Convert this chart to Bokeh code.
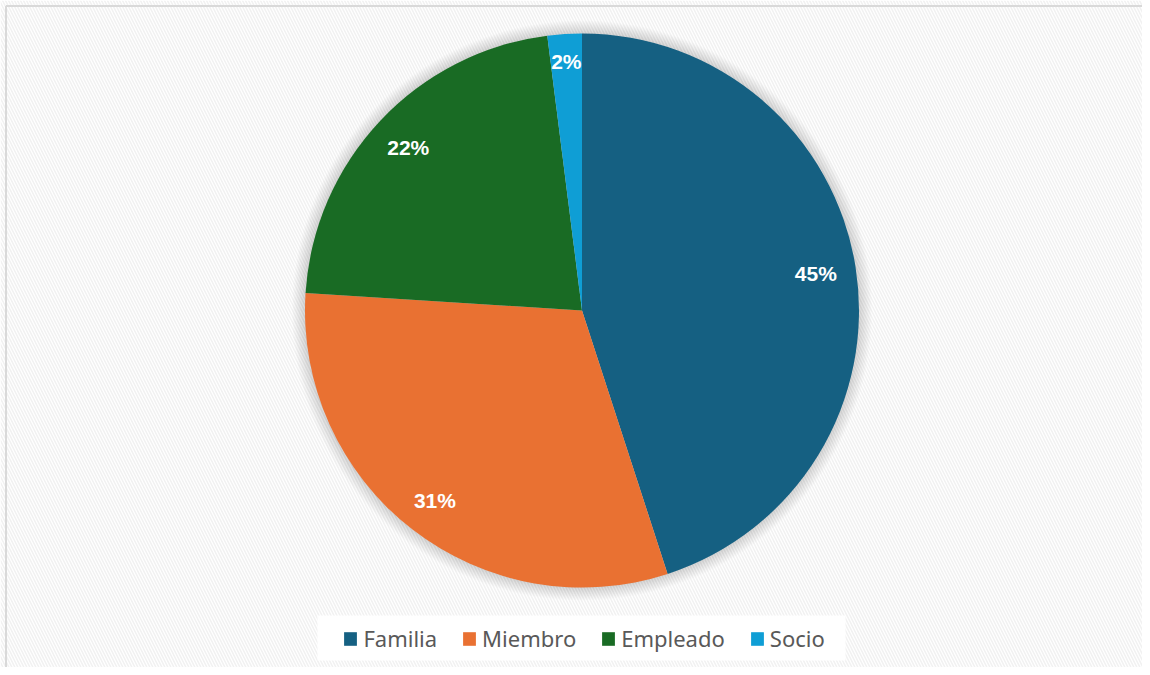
import numpy as np
from bokeh.plotting import figure
from bokeh.models import Range1d, ColumnDataSource, Legend, LegendItem
from bokeh.core.properties import value
from bokeh.embed import file_html
from bokeh.resources import INLINE

# ---- data ----
categories = ["Familia", "Miembro", "Empleado", "Socio"]
values = [45, 31, 22, 2]
colors = ["#156082", "#E97132", "#196B24", "#0F9ED5"]

# ---- geometry (picture pixels) ----
W, H = 1142, 667
OX, OY = 0, 0

def dx(X):
    return X - OX

def dy(Y):
    return (OY + H) - Y

cx, cy, R = dx(581.5), dy(310), 277

p = figure(width=W, height=H, output_backend="svg", toolbar_location=None,
           x_range=Range1d(0, W), y_range=Range1d(0, H), min_border=0,
           outline_line_color=None)
p.xaxis.visible = False
p.yaxis.visible = False
p.grid.visible = False
p.background_fill_color = "white"
p.border_fill_color = "white"

# hatched background
p.quad(left=[0], right=[W], bottom=[0], top=[H], fill_color="white", line_color=None,
       hatch_pattern="left_diagonal_line", hatch_color="#f1f1f1", hatch_scale=6, hatch_weight=1.5)

# chart border (left/top visible)
p.segment(x0=[dx(5.5), dx(5.5)], y0=[0, dy(5.5)], x1=[dx(5.5), W], y1=[dy(5.5), dy(5.5)],
          line_color="#d9d9d9", line_width=2)

# soft shadow
for k in range(1, 14):
    p.circle(x=[cx], y=[cy], radius=R + k, fill_color="black", fill_alpha=0.011, line_color=None)

# wedges
vals = np.array(values, dtype=float)
frac = vals / vals.sum()
cum = np.concatenate([[0], np.cumsum(frac)])
start = np.pi / 2 - cum[1:] * 2 * np.pi
end = np.pi / 2 - cum[:-1] * 2 * np.pi
src = ColumnDataSource(dict(cat=categories, start=start, end=end, color=colors))
wr = p.wedge(x=cx, y=cy, radius=R, start_angle="start", end_angle="end", fill_color="color",
             line_color=None, source=src)

# data labels (inside end)
mid = (cum[:-1] + cum[1:]) / 2 * 2 * np.pi  # clockwise from top
ux, uy = np.sin(mid), np.cos(mid)
lab = ["%d%%" % round(f * 100) for f in frac]
half_w = np.array([len(s) * 6.5 for s in lab])
half_h = 6.5
dist = R - 20 - (np.abs(ux) * half_w + np.abs(uy) * half_h)
p.text(x=cx + ux * dist, y=cy + uy * dist, text=lab, text_align="center", text_baseline="middle",
       text_color="white", text_font=value("Liberation Sans"), text_font_style="bold",
       text_font_size="21px")

# legend box
p.quad(left=[dx(317)], right=[dx(845)], bottom=[dy(660)], top=[dy(615)], fill_color="white",
       line_color=None)

items = [LegendItem(label=c, renderers=[wr], index=i) for i, c in enumerate(categories)]
legend = Legend(items=items, orientation="horizontal", location=(dx(342.4), dy(653)),
                glyph_width=16, glyph_height=17, label_standoff=5, spacing=24,
                label_text_font="Noto Sans", label_text_font_size="22px",
                label_text_color="#595959", background_fill_alpha=0, border_line_color=None,
                padding=0, margin=0)
p.add_layout(legend, "center")

open("out.html", "w").write(file_html(p, INLINE))
